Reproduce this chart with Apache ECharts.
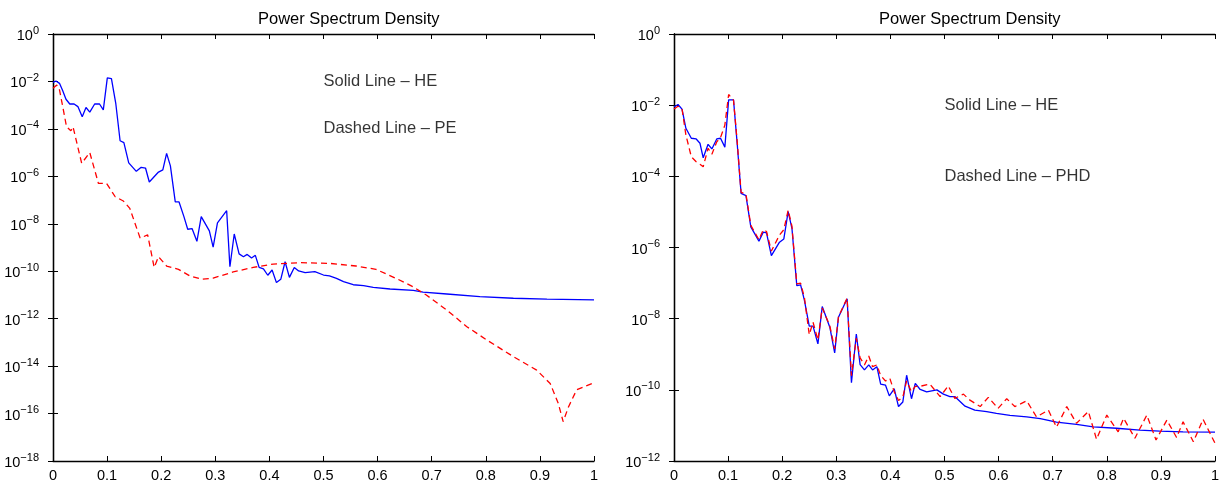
<!DOCTYPE html>
<html>
<head>
<meta charset="utf-8">
<script src="https://cdn.jsdelivr.net/npm/echarts@6/dist/echarts.min.js"></script>
<style>
  html, body { margin: 0; padding: 0; background: #fff; }
  #chart { width: 1223px; height: 482px; }
</style>
</head>
<body>
<div id="chart"></div>
<script>
// [frequency, log10(PSD)]
const heLeft = [
  [0, -2.04], [0.0055, -1.98], [0.012, -2.08], [0.018, -2.39], [0.024, -2.75], [0.031, -2.95],
  [0.039, -2.95], [0.046, -3.06], [0.054, -3.49], [0.061, -3.10], [0.068, -3.29], [0.077, -2.95],
  [0.086, -2.95], [0.093, -3.20], [0.1004, -1.85], [0.108, -1.88], [0.116, -2.92], [0.124, -4.50],
  [0.131, -4.58], [0.140, -5.43], [0.154, -5.79], [0.163, -5.62], [0.171, -5.65], [0.178, -6.24],
  [0.195, -5.82], [0.203, -5.73], [0.210, -5.03], [0.217, -5.56], [0.226, -7.08], [0.233, -7.08],
  [0.242, -7.70], [0.249, -8.23], [0.257, -8.20], [0.266, -8.74], [0.274, -7.70], [0.289, -8.30],
  [0.296, -8.98], [0.304, -7.96], [0.321, -7.45], [0.327, -9.81], [0.335, -8.43], [0.344, -9.27],
  [0.352, -9.39], [0.359, -9.29], [0.367, -9.44], [0.374, -9.33], [0.381, -9.84], [0.389, -9.90],
  [0.397, -10.17], [0.405, -9.95], [0.413, -10.48], [0.421, -10.34], [0.429, -9.60], [0.437, -10.26],
  [0.446, -9.84], [0.454, -9.99], [0.466, -10.06], [0.484, -10.02], [0.500, -10.16], [0.511, -10.20],
  [0.524, -10.30], [0.537, -10.44], [0.555, -10.57], [0.574, -10.61], [0.592, -10.68], [0.623, -10.75],
  [0.666, -10.81], [0.684, -10.88], [0.728, -10.96], [0.789, -11.07], [0.851, -11.14], [0.913, -11.18],
  [1.0, -11.21]
];

const peLeft = [
  [0, -2.29], [0.007, -2.15], [0.012, -2.36], [0.018, -3.06], [0.025, -3.91], [0.033, -4.08],
  [0.037, -3.91], [0.053, -5.45], [0.068, -5.00], [0.084, -6.30], [0.099, -6.30], [0.115, -6.86],
  [0.130, -7.04], [0.142, -7.35], [0.161, -8.60], [0.175, -8.47], [0.187, -9.84], [0.195, -9.39],
  [0.210, -9.78], [0.232, -9.92], [0.253, -10.20], [0.275, -10.34], [0.296, -10.29], [0.333, -10.03],
  [0.370, -9.84], [0.407, -9.70], [0.457, -9.64], [0.512, -9.67], [0.560, -9.78], [0.597, -9.92],
  [0.634, -10.30], [0.665, -10.65], [0.690, -11.00], [0.728, -11.64], [0.765, -12.34], [0.802, -12.90],
  [0.851, -13.60], [0.894, -14.17], [0.919, -14.73], [0.934, -15.57], [0.943, -16.34], [0.953, -15.71],
  [0.968, -15.00], [1.0, -14.70]
];

const heRight = [
  [0, -2.05], [0.0074, -1.98], [0.0148, -2.11], [0.022, -2.65], [0.032, -2.93], [0.041, -2.95],
  [0.048, -3.07], [0.054, -3.48], [0.063, -3.10], [0.070, -3.23], [0.079, -2.95], [0.086, -2.93],
  [0.094, -3.18], [0.101, -1.85], [0.110, -1.85], [0.117, -3.12], [0.124, -4.48], [0.133, -4.54],
  [0.142, -5.42], [0.157, -5.82], [0.165, -5.57], [0.171, -5.59], [0.180, -6.23], [0.195, -5.85],
  [0.203, -5.76], [0.211, -4.99], [0.218, -5.46], [0.227, -7.07], [0.234, -7.05], [0.241, -7.48],
  [0.250, -8.21], [0.257, -8.21], [0.266, -8.71], [0.274, -7.66], [0.288, -8.24], [0.297, -8.96],
  [0.304, -7.96], [0.320, -7.44], [0.328, -9.80], [0.337, -8.43], [0.344, -9.29], [0.352, -9.44],
  [0.360, -9.30], [0.367, -9.44], [0.375, -9.35], [0.382, -9.84], [0.391, -9.87], [0.398, -10.17],
  [0.407, -9.97], [0.415, -10.47], [0.423, -10.34], [0.430, -9.59], [0.439, -10.25], [0.446, -9.82],
  [0.455, -9.99], [0.467, -10.06], [0.486, -10.00], [0.498, -10.12], [0.510, -10.19], [0.519, -10.19],
  [0.538, -10.46], [0.556, -10.57], [0.578, -10.61], [0.596, -10.66], [0.621, -10.72], [0.652, -10.76],
  [0.677, -10.81], [0.707, -10.91], [0.744, -10.97], [0.775, -11.04], [0.818, -11.08], [0.861, -11.13],
  [0.898, -11.16], [0.941, -11.18], [1.0, -11.19]
];

const phdRight = [
  [0, -2.11], [0.0074, -2.03], [0.0148, -2.10], [0.022, -2.84], [0.032, -3.45], [0.041, -3.59],
  [0.048, -3.66], [0.054, -3.73], [0.063, -3.21], [0.070, -3.38], [0.079, -3.03], [0.086, -2.91],
  [0.094, -2.56], [0.101, -1.70], [0.110, -1.86], [0.117, -3.05], [0.124, -4.45], [0.133, -4.50],
  [0.142, -5.38], [0.157, -5.78], [0.165, -5.50], [0.171, -5.55], [0.180, -6.10], [0.195, -5.65],
  [0.203, -5.50], [0.211, -4.95], [0.218, -5.40], [0.227, -7.02], [0.234, -7.00], [0.241, -7.40],
  [0.250, -8.45], [0.257, -8.10], [0.266, -8.60], [0.274, -7.70], [0.288, -8.20], [0.297, -8.85],
  [0.304, -7.95], [0.320, -7.42], [0.328, -9.60], [0.337, -8.55], [0.344, -9.10], [0.352, -9.30],
  [0.360, -9.05], [0.367, -9.35], [0.375, -9.30], [0.382, -9.60], [0.391, -9.75], [0.399, -9.68],
  [0.407, -10.05], [0.415, -10.30], [0.423, -10.20], [0.430, -9.75], [0.439, -10.05], [0.446, -9.90],
  [0.455, -9.90], [0.473, -9.84], [0.492, -10.19], [0.507, -9.89], [0.519, -10.24], [0.535, -10.12],
  [0.547, -10.29], [0.566, -10.47], [0.581, -10.21], [0.599, -10.52], [0.615, -10.25], [0.630, -10.47],
  [0.652, -10.31], [0.670, -10.76], [0.692, -10.57], [0.707, -11.05], [0.726, -10.47], [0.744, -10.94],
  [0.766, -10.61], [0.781, -11.39], [0.800, -10.71], [0.821, -11.18], [0.831, -10.80], [0.852, -11.36],
  [0.874, -10.71], [0.891, -11.41], [0.911, -10.85], [0.929, -11.34], [0.941, -10.90], [0.960, -11.46],
  [0.978, -10.83], [1.0, -11.50]
];

const xTicks = [0, 0.1, 0.2, 0.3, 0.4, 0.5, 0.6, 0.7, 0.8, 0.9, 1];
const titleText = 'Power Spectrum Density';
const notesLeft = ['Solid Line – HE', 'Dashed Line – PE'];
const notesRight = ['Solid Line – HE', 'Dashed Line – PHD'];
const yRangeLeft = [1e-18, 1];
const yRangeRight = [1e-12, 1];

const FONT = 'Liberation Sans, Arial, Helvetica, sans-serif';
const toPairs = (arr) => arr.map((p) => [p[0], Math.pow(10, p[1])]);

function expLabel(value) {
  const e = Math.round(Math.log10(value));
  const s = e < 0 ? '\u2212' + (-e) : String(e);
  return '{b|10}{e|' + s + '}';
}

const tickStyle = { show: true, inside: true, length: 5, lineStyle: { color: '#000', width: 1 } };
const lineStyleAxis = { show: true, lineStyle: { color: '#000', width: 1.3 } };

function xAxes(gridIndex) {
  return [
    {
      gridIndex, type: 'value', position: 'bottom', min: 0, max: 1, interval: 0.1,
      axisLine: lineStyleAxis, axisTick: tickStyle, splitLine: { show: false },
      axisLabel: {
        color: '#000', fontSize: 14.5, fontFamily: FONT, margin: 7,
        formatter: (v) => {
          const t = xTicks.find((k) => Math.abs(k - v) < 1e-9);
          return t === undefined ? '' : String(t);
        }
      }
    },
    {
      gridIndex, type: 'value', position: 'top', min: 0, max: 1, interval: 0.1,
      axisLine: lineStyleAxis, axisTick: tickStyle, axisLabel: { show: false },
      splitLine: { show: false }
    }
  ];
}

function yAxes(gridIndex, range) {
  const common = {
    gridIndex, type: 'log', logBase: 10, min: range[0], max: range[1], interval: 2,
    axisLine: lineStyleAxis, axisTick: tickStyle, splitLine: { show: false },
    minorTick: { show: false }, minorSplitLine: { show: false }
  };
  return [
    Object.assign({}, common, {
      position: 'left',
      axisLabel: {
        color: '#000', margin: 14, formatter: expLabel, padding: [4, 0, 0, 0],
        rich: {
          b: { fontSize: 14.5, fontFamily: FONT, color: '#000' },
          e: { fontSize: 11, fontFamily: FONT, color: '#000', padding: [0, 0, 11, 0] }
        }
      }
    }),
    Object.assign({}, common, { position: 'right', axisLabel: { show: false } })
  ];
}

function noteSeries(xAxisIndex, yAxisIndex, notes) {
  return {
    type: 'scatter', xAxisIndex, yAxisIndex, symbolSize: 0, silent: true,
    data: [
      { value: [0.5, 1e-2], name: notes[0] },
      { value: [0.5, 1e-4], name: notes[1] }
    ],
    label: {
      show: true, position: 'right', distance: 0, formatter: (p) => p.name,
      color: '#000', fontSize: 16.5, fontFamily: FONT
    }
  };
}

const solid = { color: '#0000ff', width: 1.3, type: 'solid' };
const dashed = { color: '#ff0000', width: 1.3, type: [6, 4] };
const titleStyle = { color: '#000', fontSize: 16.5, fontWeight: 'normal', fontFamily: FONT };

const chart = echarts.init(document.getElementById('chart'), null, { renderer: 'canvas' });
chart.setOption({
  animation: false,
  backgroundColor: '#fff',
  title: [
    { text: titleText, left: 258, top: 11, padding: 0, textStyle: titleStyle },
    { text: titleText, left: 879, top: 11, padding: 0, textStyle: titleStyle }
  ],
  grid: [
    { left: 53, top: 34, width: 541, height: 427, outerBoundsMode: 'none', containLabel: false },
    { left: 674, top: 34, width: 541, height: 427, outerBoundsMode: 'none', containLabel: false }
  ],
  xAxis: [...xAxes(0), ...xAxes(1)],
  yAxis: [...yAxes(0, yRangeLeft), ...yAxes(1, yRangeRight)],
  series: [
    { name: 'HE', type: 'line', xAxisIndex: 0, yAxisIndex: 0, data: toPairs(heLeft),
      showSymbol: false, lineStyle: solid, itemStyle: { color: '#0000ff' } },
    { name: 'PE', type: 'line', xAxisIndex: 0, yAxisIndex: 0, data: toPairs(peLeft),
      showSymbol: false, lineStyle: dashed, itemStyle: { color: '#ff0000' } },
    noteSeries(0, 0, notesLeft),
    { name: 'HE', type: 'line', xAxisIndex: 2, yAxisIndex: 2, data: toPairs(heRight),
      showSymbol: false, lineStyle: solid, itemStyle: { color: '#0000ff' } },
    { name: 'PHD', type: 'line', xAxisIndex: 2, yAxisIndex: 2, data: toPairs(phdRight),
      showSymbol: false, lineStyle: dashed, itemStyle: { color: '#ff0000' } },
    noteSeries(2, 2, notesRight)
  ]
});
window.addEventListener('resize', () => chart.resize());
</script>
</body>
</html>
